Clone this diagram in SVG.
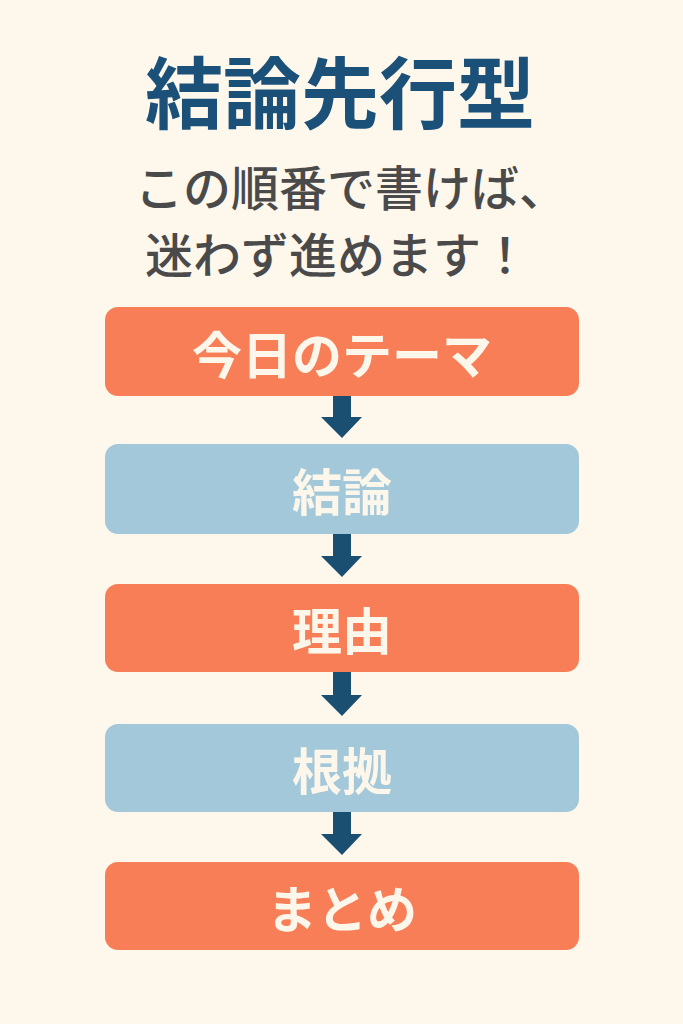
<svg xmlns="http://www.w3.org/2000/svg" width="683" height="1024" viewBox="0 0 683 1024">
<style>
.bg{fill:#fdf7ec}
.box{stroke:none}
.o{fill:#f77e57}
.b{fill:#a3c8da}
.lbl{font-family:"Noto Sans CJK JP","Noto Sans CJK SC",sans-serif;font-weight:700;font-size:50px;fill:#fdf6ea;text-anchor:middle;dominant-baseline:central}
.title{font-family:"Noto Sans CJK JP","Noto Sans CJK SC",sans-serif;font-weight:700;font-size:78px;fill:#1b5078;text-anchor:middle;dominant-baseline:central}
.sub{font-family:"Noto Sans CJK JP","Noto Sans CJK SC",sans-serif;font-weight:500;font-size:48px;fill:#4a4a4a;dominant-baseline:central}
.arr{fill:#1b4f72}
</style>
<rect class="bg" x="0" y="0" width="683" height="1024"/>
<g id="title"><text class="title" x="340" y="89">結論先行型</text></g>
<g id="subtitle">
<text class="sub" x="135" y="185">この順番で書けば、</text>
<text class="sub" x="145" y="252">迷わず進めます！</text>
</g>
<g id="connectors">
<path class="arr" d="M333 396 H351 V417 H362 L342 438 L321 417 H333 Z"/>
<path class="arr" d="M333 534 H351 V556 H362 L342 577 L321 556 H333 Z"/>
<path class="arr" d="M333 672 H351 V695 H362 L342 716 L321 695 H333 Z"/>
<path class="arr" d="M333 812 H351 V834 H362 L342 855 L321 834 H333 Z"/>
</g>
<g id="node1"><rect class="box o" x="105" y="307" width="474" height="89" rx="13"/><text class="lbl" x="342" y="352">今日のテーマ</text></g>
<g id="node2"><rect class="box b" x="105" y="444" width="474" height="90" rx="13"/><text class="lbl" x="342" y="489">結論</text></g>
<g id="node3"><rect class="box o" x="105" y="584" width="474" height="88" rx="13"/><text class="lbl" x="342" y="628">理由</text></g>
<g id="node4"><rect class="box b" x="105" y="724" width="474" height="88" rx="13"/><text class="lbl" x="342" y="768">根拠</text></g>
<g id="node5"><rect class="box o" x="105" y="862" width="474" height="88" rx="13"/><text class="lbl" x="342" y="906">まとめ</text></g>
</svg>
